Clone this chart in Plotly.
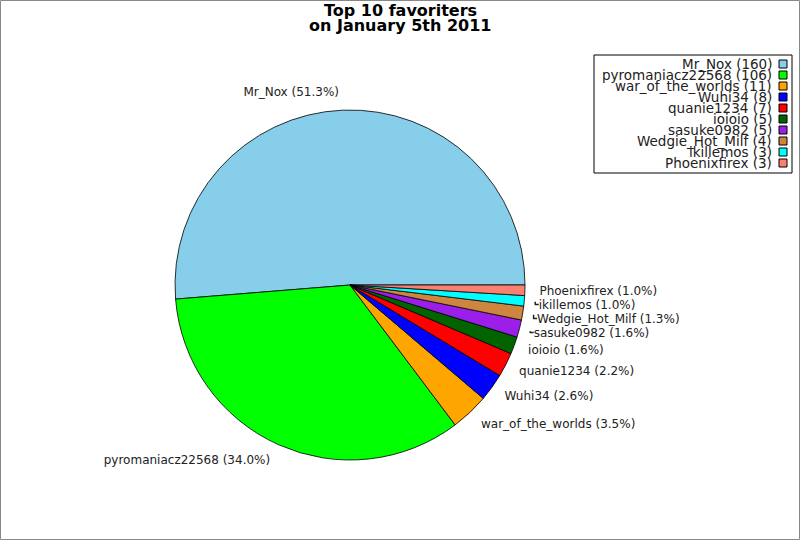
"""Top 10 favoriters pie chart."""
import plotly.graph_objects as go

names = ['Mr_Nox', 'pyromaniacz22568', 'war_of_the_worlds', 'Wuhi34', 'quanie1234',
         'ioioio', 'sasuke0982', 'Wedgie_Hot_Milf', 'ikillemos', 'Phoenixfirex']
counts = [160, 106, 11, 8, 7, 5, 5, 4, 3, 3]
colors = ['#87CEEB', '#00FF00', '#FFA500', '#0000FF', '#FF0000',
          '#006400', '#9B1FE8', '#CD853F', '#00FFFF', '#FA8072']
title_lines = ["Top 10 favoriters", "on January 5th 2011"]

W, H = 800, 540
font = "DejaVu Sans"
cx, cy, R = 350, 285, 175   # pie centre / radius in px
RL = 186                    # invisible pie that carries the labels a bit further out
# plotly's counterclockwise pies end the first slice at the rotation angle,
# so shift by that slice to make it start at 3 o'clock
rot = 90 - 360 * counts[0] / sum(counts)


def dom(r):
    return dict(x=[(cx - r) / W, (cx + r) / W], y=[1 - (cy + r) / H, 1 - (cy - r) / H])


fig = go.Figure()
# label carrier: same slices, transparent, slightly larger
fig.add_trace(go.Pie(
    labels=names, values=counts, sort=False,
    direction="counterclockwise", rotation=rot,
    marker=dict(colors=['rgba(0,0,0,0)'] * len(names), line=dict(width=0)),
    textposition="outside", texttemplate="%{label} (%{percent:.1%})",
    textfont=dict(family=font, size=12, color="#222"),
    domain=dom(RL), showlegend=False, hoverinfo="skip"))
fig.add_trace(go.Pie(
    labels=names, values=counts, sort=False,
    direction="counterclockwise", rotation=rot,
    marker=dict(colors=colors, line=dict(color="black", width=0.8)),
    textinfo="none", domain=dom(R),
    showlegend=False, hoverinfo="label+value+percent"))

# legend drawn by hand: text right aligned, swatch on the right
shapes = [dict(type="rect", xref="paper", yref="paper", x0=0.5 / W, x1=1 - 0.5 / W,
               y0=0.5 / H, y1=1 - 0.5 / H, line=dict(color="#888", width=1)),
          dict(type="rect", xref="paper", yref="paper", x0=594 / W, x1=792 / W,
               y0=1 - 173 / H, y1=1 - 55 / H, line=dict(color="black", width=1),
               fillcolor="white")]
annotations = []
for i, t in enumerate(title_lines):
    annotations.append(dict(text=f"<b>{t}</b>", xref="paper", yref="paper",
                            x=0.5, y=1 - (10.5 + 15 * i) / H, xanchor="center", yanchor="middle",
                            showarrow=False, font=dict(family=font, size=16, color="black")))
for i, (n, c, col) in enumerate(zip(names, counts, colors)):
    yc = 64 + i * 11
    annotations.append(dict(text=f"{n} ({c})", xref="paper", yref="paper",
                            x=774 / W, y=1 - yc / H, xanchor="right", yanchor="middle",
                            showarrow=False, font=dict(family=font, size=13.5, color="#222")))
    shapes.append(dict(type="rect", xref="paper", yref="paper",
                       x0=779 / W, x1=787 / W, y0=1 - (yc + 4) / H, y1=1 - (yc - 4) / H,
                       fillcolor=col, line=dict(color="black", width=1)))

fig.update_layout(
    width=W, height=H, margin=dict(l=0, r=0, t=0, b=0),
    paper_bgcolor="white", plot_bgcolor="white",
    shapes=shapes, annotations=annotations)

fig.write_html("out.html", config={"displayModeBar": False},
               post_script="document.body.style.margin='0';")
